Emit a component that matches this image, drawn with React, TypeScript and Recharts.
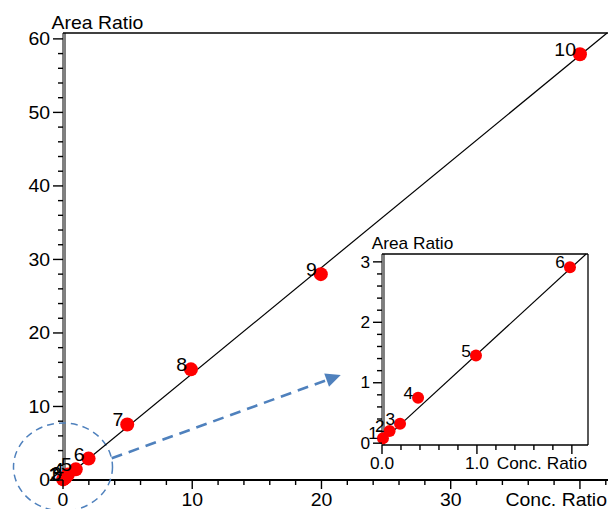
import React from 'react';
import { ScatterChart, Scatter, XAxis, YAxis, ReferenceLine, ReferenceDot } from 'recharts';

// ---- data ----
const pointLabels = ['1', '2', '3', '4', '5', '6', '7', '8', '9', '10'];
const concRatio = [0.01, 0.08, 0.19, 0.38, 0.99, 1.98, 4.97, 9.9, 19.95, 40.0];
const areaRatio = [0.08, 0.2, 0.32, 0.75, 1.45, 2.91, 7.55, 15.05, 28.0, 57.9];

// regression line end points
const mainFitX = [0, 42.1];
const mainFitY = [0.03, 60.8];
const insetFitX = [0, 2.15];
const insetFitY = [0.03, 3.13];

// axes
const mainXDomain = [0, 43.1];
const mainYDomain = [0, 60.8];
const insetXDomain = [0, 2.17];
const insetYDomain = [-0.03, 3.13];

const mainXTicks = Array.from({ length: 22 }, (_, i) => i * 2);
const mainXMajor = [0, 10, 20, 30, 40];
const mainXTickLabels = ['0', '10', '20', '30', ''];
const mainYTicks = Array.from({ length: 31 }, (_, i) => i * 2);
const mainYMajor = [0, 10, 20, 30, 40, 50, 60];
const mainYTickLabels = ['0', '10', '20', '30', '40', '50', '60'];

const insetXTicks = [0, 0.2, 0.4, 0.6, 0.8, 1, 1.2, 1.4, 1.6, 1.8, 2];
const insetXMajor = [0, 1, 2];
const insetXTickLabels = ['0.0', '1.0', ''];
const insetYTicks = [0, 0.2, 0.4, 0.6, 0.8, 1, 1.2, 1.4, 1.6, 1.8, 2, 2.2, 2.4, 2.6, 2.8, 3];
const insetYMajor = [0, 1, 2, 3];
const insetYTickLabels = ['0', '1', '2', '3'];

const xTitle = 'Conc. Ratio';
const yTitle = 'Area Ratio';

// annotation anchors (data coords)
const zoomCircleCenter = { x: 0, y: 1.77 };
const arrowStart = { x: 3.77, y: 2.95 };
const arrowEnd = { x: 21.49, y: 14.29 };

// ---- tables built from the arrays ----
const points = concRatio.map((x, i) => ({ x, y: areaRatio[i], label: pointLabels[i] }));
const insetPoints = points.filter((p) => p.x <= insetXDomain[1] && p.y <= insetYDomain[1]);
const mainFit = mainFitX.map((x, i) => ({ x, y: mainFitY[i] }));
const insetFit = insetFitX.map((x, i) => ({ x, y: insetFitY[i] }));

const FONT = "'Liberation Sans', Arial, Helvetica, sans-serif";
const SX = 1.08;
const BLUE = '#4f81bd';

const Txt = ({ x, y, size, anchor = 'start', children }: any) => (
  <text
    transform={`translate(${x},${y}) scale(${SX},1)`}
    x={0}
    y={0}
    fontSize={size}
    fontFamily={FONT}
    textAnchor={anchor}
    fill="#000"
  >
    {children}
  </text>
);

const near = (a: number, b: number) => Math.abs(a - b) < 1e-6;

const makeYTick = (majors: number[], labels: string[], size: number, majLen: number, minLen: number, gap: number) =>
  (props: any) => {
    const { x, y, payload } = props;
    const v = payload.value;
    const idx = majors.findIndex((m) => near(m, v));
    const major = idx >= 0;
    return (
      <g>
        <line x1={x - (major ? majLen : minLen)} x2={x} y1={y} y2={y} stroke="#000" strokeWidth={1.4} />
        {major && labels[idx] ? (
          <Txt x={x - gap} y={y + size * 0.358} size={size} anchor="end">
            {labels[idx]}
          </Txt>
        ) : null}
      </g>
    );
  };

const makeXTick = (majors: number[], labels: string[], size: number, majLen: number, minLen: number, base: number) =>
  (props: any) => {
    const { x, y, payload } = props;
    const v = payload.value;
    const idx = majors.findIndex((m) => near(m, v));
    const major = idx >= 0;
    return (
      <g>
        <line x1={x} x2={x} y1={y} y2={y + (major ? majLen : minLen)} stroke="#000" strokeWidth={1.4} />
        {major && labels[idx] ? (
          <Txt x={x} y={y + base} size={size} anchor="middle">
            {labels[idx]}
          </Txt>
        ) : null}
      </g>
    );
  };

const makeDot = (r: number, size: number, dx: number, dy: number) => (p: any) => {
  if (p.cx == null || p.cy == null) return <g />;
  return (
    <g>
      <circle cx={p.cx} cy={p.cy} r={r} fill="#ff0000" />
      <Txt x={p.cx - dx} y={p.cy + dy} size={size} anchor="end">
        {p.payload.label}
      </Txt>
    </g>
  );
};

const noShape = () => <g />;

const yTitleContent = (size: number, dx: number, dy: number) => (p: any) => {
  const vb = p.viewBox || {};
  const axisX = (vb.x || 0) + (vb.width || 0);
  return (
    <Txt x={axisX - dx} y={(vb.y || 0) - dy} size={size} anchor="start">
      {yTitle}
    </Txt>
  );
};

const xTitleContent = (size: number, dxFromRight: number, base: number) => (p: any) => {
  const vb = p.viewBox || {};
  return (
    <Txt x={(vb.x || 0) + (vb.width || 0) - dxFromRight} y={(vb.y || 0) + base} size={size} anchor="end">
      {xTitle}
    </Txt>
  );
};

const ellipseShape = (p: any) => {
  if (p.cx == null) return <g />;
  return (
    <ellipse cx={p.cx} cy={p.cy} rx={49.5} ry={44} fill="none" stroke={BLUE} strokeWidth={1.5} strokeDasharray="7 5" />
  );
};

const arrowShape = (p: any) => {
  const { x1, y1, x2, y2 } = p;
  if ([x1, y1, x2, y2].some((v) => v == null || isNaN(v))) return <g />;
  const dx = x2 - x1;
  const dy = y2 - y1;
  const L = Math.hypot(dx, dy);
  const ux = dx / L;
  const uy = dy / L;
  const hl = 15;
  const hw = 7;
  const bx = x2 - ux * hl;
  const by = y2 - uy * hl;
  const px = -uy;
  const py = ux;
  return (
    <g>
      <line x1={x1} y1={y1} x2={bx + ux * 2} y2={by + uy * 2} stroke={BLUE} strokeWidth={2.6} strokeDasharray="11 7" />
      <polygon points={`${x2},${y2} ${bx + px * hw},${by + py * hw} ${bx - px * hw},${by - py * hw}`} fill={BLUE} />
    </g>
  );
};

const MainChart = () => (
  <ScatterChart width={620} height={509} margin={{ top: 33, right: 0, bottom: 0, left: 0 }}>
    <XAxis
      type="number"
      dataKey="x"
      domain={mainXDomain}
      ticks={mainXTicks}
      interval={0}
      height={29}
      tickSize={0}
      tickMargin={0}
      tickLine={false}
      axisLine={{ stroke: '#000', strokeWidth: 2 }}
      tick={makeXTick(mainXMajor, mainXTickLabels, 18, 9, 5, 26)}
      label={{ content: xTitleContent(18, 13, 26) }}
    />
    <YAxis
      type="number"
      dataKey="y"
      domain={mainYDomain}
      ticks={mainYTicks}
      interval={0}
      width={63}
      tickSize={0}
      tickMargin={0}
      tickLine={false}
      axisLine={{ stroke: '#000', strokeWidth: 1 }}
      tick={makeYTick(mainYMajor, mainYTickLabels, 18, 10, 5, 13)}
      label={{ content: yTitleContent(18, 11.5, 4) }}
    />
    <ReferenceLine y={mainYDomain[1]} stroke="#000" strokeWidth={1.5} ifOverflow="visible" />
    <ReferenceLine x={0.155} stroke="#000" strokeWidth={1} />
    <ReferenceDot
      x={zoomCircleCenter.x}
      y={zoomCircleCenter.y}
      ifOverflow="visible"
      shape={ellipseShape}
    />
    <ReferenceLine
      segment={[arrowStart, arrowEnd]}
      ifOverflow="visible"
      shape={arrowShape}
    />
    <Scatter
      data={mainFit}
      line={{ stroke: '#000', strokeWidth: 1.2 }}
      shape={noShape}
      isAnimationActive={false}
      legendType="none"
    />
    <Scatter data={points} shape={makeDot(7, 18, 4, 2)} isAnimationActive={false} />
  </ScatterChart>
);

const InsetChart = () => (
  <ScatterChart width={270} height={250} margin={{ top: 29, right: 12, bottom: 0, left: 0 }}>
    <XAxis
      type="number"
      dataKey="x"
      domain={insetXDomain}
      ticks={insetXTicks}
      interval={0}
      height={30}
      tickSize={0}
      tickMargin={0}
      tickLine={false}
      axisLine={{ stroke: '#000', strokeWidth: 1.3 }}
      tick={makeXTick(insetXMajor, insetXTickLabels, 16, 9, 5, 24)}
      label={{ content: xTitleContent(16, 1, 24) }}
    />
    <YAxis
      type="number"
      dataKey="y"
      domain={insetYDomain}
      ticks={insetYTicks}
      interval={0}
      width={52}
      tickSize={0}
      tickMargin={0}
      tickLine={false}
      axisLine={{ stroke: '#000', strokeWidth: 1 }}
      tick={makeYTick(insetYMajor, insetYTickLabels, 16, 9, 5, 12)}
      label={{ content: yTitleContent(16, 10.3, 5) }}
    />
    <ReferenceLine y={insetYDomain[1]} stroke="#000" strokeWidth={1.3} />
    <ReferenceLine x={insetXDomain[1]} stroke="#000" strokeWidth={1.3} />
    <ReferenceLine x={0.021} stroke="#000" strokeWidth={1} />
    <Scatter
      data={insetFit}
      line={{ stroke: '#000', strokeWidth: 1.2 }}
      shape={noShape}
      isAnimationActive={false}
      legendType="none"
    />
    <Scatter data={insetPoints} shape={makeDot(6, 16, 5, 1)} isAnimationActive={false} />
  </ScatterChart>
);

export default function App() {
  return (
    <div
      style={{
        position: 'absolute',
        left: 0,
        top: 0,
        width: 608,
        height: 509,
        overflow: 'hidden',
        background: '#fff',
      }}
    >
      <div style={{ position: 'absolute', left: 0, top: 0 }}>
        <MainChart />
      </div>
      <div style={{ position: 'absolute', left: 330, top: 225 }}>
        <InsetChart />
      </div>
    </div>
  );
}
